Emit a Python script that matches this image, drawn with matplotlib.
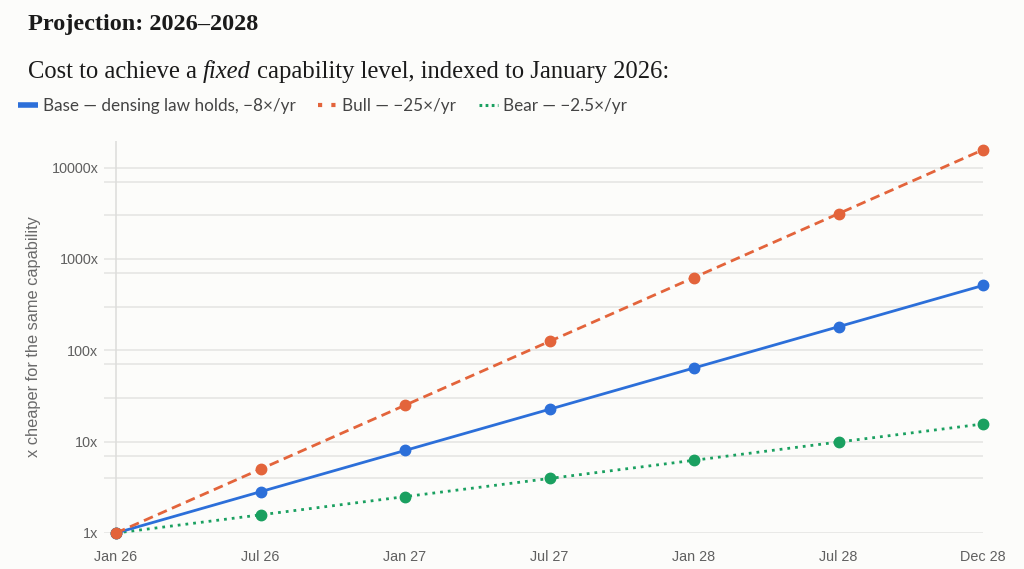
import matplotlib
matplotlib.use("Agg")
import matplotlib.pyplot as plt
from matplotlib.lines import Line2D
import numpy as np

# data
months = ["Jan 26", "Jul 26", "Jan 27", "Jul 27", "Jan 28", "Jul 28", "Dec 28"]
base = [1, 2.83, 8, 22.6, 64, 181, 512]
bull = [1, 5, 25, 125, 625, 3125, 15625]
bear = [1, 1.58, 2.5, 3.95, 6.25, 9.9, 15.6]
major_ticks = [1, 10, 100, 1000, 10000]
major_labels = ["1x", "10x", "100x", "1000x", "10000x"]
minor_ticks = [4, 7, 30, 70, 300, 700, 3000, 7000]

bg = "#fcfcfa"
c_base = "#2c6fd9"
c_bull = "#e3643b"
c_bear = "#1aa060"

W, H = 1024, 569
fig = plt.figure(figsize=(W / 100, H / 100), dpi=100, facecolor=bg)

# plot area in pixels: left 104, right 983, top 141, bottom 533
ax = fig.add_axes([104 / W, 1 - 533 / H, (983 - 104) / W, (533 - 141) / H])
ax.set_facecolor(bg)
x = np.arange(len(months))

ax.set_yscale("log")
ax.set_ylim(1, 19500)
ax.set_xlim(-12 / 144.5, 6)

for v in major_ticks + minor_ticks:
    ax.axhline(v, color="#e4e4e2", lw=1.1, zorder=0)
ax.axvline(0, color="#dcdcda", lw=1.1, zorder=0)

kw = dict(marker="o", markersize=7.5, lw=2.0, clip_on=False, zorder=3)
ax.plot(x, bear, color=c_bear, dashes=(1.0, 1.8), **kw)
ax.plot(x, base, color=c_base, **kw)
ax.plot(x, bull, color=c_bull, dashes=(3.5, 2.0), **kw)

for s in ax.spines.values():
    s.set_visible(False)
ax.set_yticks(major_ticks)
ax.set_yticklabels(major_labels)
ax.yaxis.set_minor_locator(matplotlib.ticker.NullLocator())
ax.set_xticks(x)
ax.set_xticklabels(months)
ax.tick_params(length=0, colors="#606060", labelsize=10.4)
ax.tick_params(axis="y", pad=4)
ax.tick_params(axis="x", pad=12)
for lab in ax.get_xticklabels() + ax.get_yticklabels():
    lab.set_family("Liberation Sans")

fig.text(34 / W, 1 - 337 / H, "x cheaper for the same capability", rotation=90,
         ha="center", va="center", color="#6a6a6a", fontsize=11.8, family="Liberation Sans")

# titles
fig.text(28 / W, 1 - 30 / H, "Projection: 2026\u20132028", fontsize=17.5, fontweight="bold",
         family="Liberation Serif", color="#1a1a1a", va="baseline")

renderer = fig.canvas.get_renderer()
xpos = 28 / W
ybase = 1 - 78 / H
for piece, style in [("Cost to achieve a ", "normal"), ("fixed", "italic"),
                     (" capability level, indexed to January 2026:", "normal")]:
    t = fig.text(xpos, ybase, piece, fontsize=17.7, style=style, family="Liberation Serif",
                 color="#1a1a1a", va="baseline")
    bb = t.get_window_extent(renderer)
    xpos = bb.x1 / W

# legend
handles = [
    Line2D([], [], color=c_base, lw=4, solid_capstyle="butt"),
    Line2D([], [], color=c_bull, lw=3, dashes=(1, 2.2)),
    Line2D([], [], color=c_bear, lw=2.2, dashes=(0.9, 1.1)),
]
labels = ["Base \u2014 densing law holds, \u22128\u00d7/yr", "Bull \u2014 \u221225\u00d7/yr",
          "Bear \u2014 \u22122.5\u00d7/yr"]
fig.legend(handles, labels, loc="center left", bbox_to_anchor=(18 / W, 1 - 106 / H),
           ncol=3, frameon=False, borderpad=0, borderaxespad=0, handlelength=1.15,
           handletextpad=0.3, columnspacing=1.3,
           prop={"family": "Lato", "size": 12.3}, labelcolor="#444444")

fig.savefig("out.png", dpi=100, facecolor=bg)
